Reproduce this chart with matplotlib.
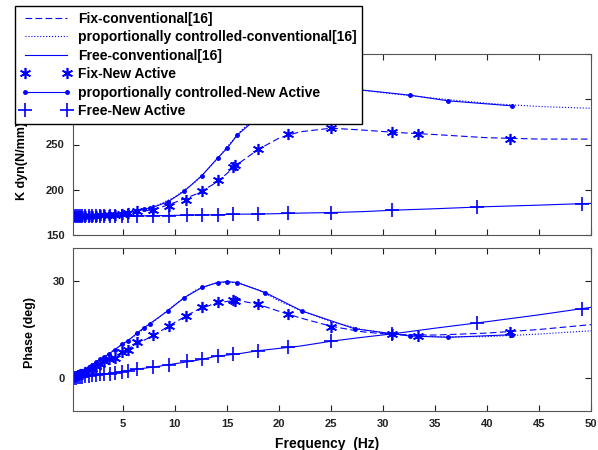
import matplotlib
matplotlib.use('Agg')
import matplotlib.pyplot as plt

plt.rcParams['font.family'] = ['Liberation Sans', 'DejaVu Sans']
plt.rcParams['font.weight'] = 'bold'
plt.rcParams['axes.labelweight'] = 'bold'

# conventional[16] curves (lines only)
conv_f = [0.2, 2, 4, 6, 8, 10, 12, 14, 16, 18, 20, 22, 25, 28, 31, 35, 40, 45, 50]
fix_conv_k = [171, 171.5, 172, 175, 178, 186, 195, 208, 228, 244.5, 257, 264, 268, 266, 263.5, 261, 257.5, 256, 256]
prop_conv_k = [171, 171.5, 172.5, 176.5, 181, 192, 209, 233, 261, 284, 298, 306, 311, 310, 306, 301, 295.5, 292, 290]
free_conv_k = [170.5, 170.5, 170.8, 171, 171.3, 171.7, 172, 172.3, 173, 173.2, 173.6, 174.2, 174.8, 175.8, 177.4, 179, 181.3, 183, 185]
fix_conv_ph = [0.2, 3.0, 6.2, 10.0, 13.3, 17.2, 20.8, 23.2, 24.0, 22.7, 20.6, 18.6, 16.0, 14.3, 13.4, 13.3, 13.9, 15.0, 16.5]
prop_conv_ph = [0.3, 4.0, 8.4, 12.8, 17.5, 22.7, 27.1, 29.4, 29.4, 27.2, 23.8, 20.9, 17.4, 15.0, 13.6, 12.8, 12.8, 13.6, 14.6]
free_conv_ph = [0.1, 0.9, 1.6, 2.7, 3.5, 4.5, 5.5, 6.8, 7.5, 8.5, 9.2, 9.9, 11.4, 12.6, 13.7, 15.4, 17.4, 19.5, 21.8]

# New Active measurements
fix_f = [0.3, 0.5, 0.7, 0.9, 1.1, 1.4, 1.7, 2.0, 2.4, 2.8, 3.2, 3.7, 4.2, 4.9, 5.5, 6.4, 7.9, 9.4,
         11.1, 12.6, 14.1, 15.6, 15.8, 18.0, 20.9, 25.0, 30.9, 33.4, 42.2]
fix_k = [171, 171, 171, 171, 171, 171, 171.5, 171.5, 171.5, 172, 172, 172, 172.5, 173, 174, 176.6, 177.5, 182.5,
         189, 198.5, 211, 225.5, 227.7, 244.5, 261.5, 268, 263.5, 262, 256]
fix_ph = [0.3, 0.6, 0.9, 1.2, 1.5, 2.0, 2.5, 3.0, 3.8, 4.5, 5.2, 5.9, 6.4, 8.0, 8.8, 11.1, 13.3, 16.2,
          19.0, 21.9, 23.3, 24.2, 23.7, 22.7, 19.7, 15.7, 13.5, 13.1, 14.3]

prop_f = [0.3, 0.5, 0.7, 0.9, 1.1, 1.4, 1.7, 2.0, 2.4, 2.8, 3.2, 3.7, 4.2, 4.9, 5.5, 6.4, 7.0, 7.6, 9.3,
          10.9, 12.6, 14.1, 15.0, 16.0, 18.7, 22.2, 27.3, 32.6, 36.3, 42.4]
prop_k = [171, 171, 171, 171, 171, 171.5, 171.5, 171.5, 172, 172, 172.5, 172.5, 173, 173.5, 175, 177, 178.5, 179.5, 186.5,
          198.5, 215.7, 235, 245.6, 260.6, 287, 303, 311, 304.5, 298.2, 292.7]
prop_ph = [0.5, 0.9, 1.3, 1.7, 2.1, 2.7, 3.3, 4.0, 5.0, 5.9, 6.6, 7.6, 8.8, 10.4, 11.6, 14.0, 15.5, 16.8, 20.7,
           24.8, 27.9, 29.4, 29.7, 29.4, 26.3, 20.7, 15.2, 13.0, 12.6, 13.4]

free_f = [0.3, 0.5, 0.7, 0.9, 1.1, 1.4, 1.7, 2.0, 2.4, 2.8, 3.2, 3.8, 4.2, 4.9, 5.5, 6.4, 7.9, 9.4,
          11.2, 12.6, 14.1, 15.6, 18.0, 20.9, 25.0, 30.9, 39.0, 49.1]
free_k = [170.5, 170.5, 170.5, 170.5, 170.5, 170.5, 170.5, 170.5, 170.5, 170.5, 170.8, 170.8, 170.8, 170.8, 171, 171, 171.5, 171.5,
          172, 172, 172.3, 173, 173.2, 173.8, 174.8, 177.4, 181, 184]
free_ph = [0.1, 0.2, 0.3, 0.4, 0.5, 0.6, 0.8, 0.9, 1.0, 1.2, 1.3, 1.5, 1.7, 1.9, 2.3, 2.9, 3.5, 4.2,
           5.2, 5.9, 6.8, 7.4, 8.5, 9.5, 11.4, 13.6, 17.0, 21.3]

labels = ['Fix-conventional[16]', 'proportionally controlled-conventional[16]', 'Free-conventional[16]',
          'Fix-New Active', 'proportionally controlled-New Active', 'Free-New Active']
xticks = [5, 10, 15, 20, 25, 30, 35, 40, 45, 50]

c = '#0000ff'
lw = 0.8
star = (6, 2, 0)   # asterisk like matlab '*'

fig = plt.figure(figsize=(5.98, 4.5), dpi=100)
ax1 = fig.add_axes([73/598, 1-235/450, 518/598, 181/450])
ax2 = fig.add_axes([73/598, 1-411/450, 518/598, 163/450])

def draw(ax, fk, pk, frk, fx, px, fr):
    h = []
    h += ax.plot(conv_f, fk, '--', color=c, lw=lw, dashes=(6, 3))
    h += ax.plot(conv_f, pk, ':', color=c, lw=lw)
    h += ax.plot(conv_f, frk, '-', color=c, lw=lw)
    h += ax.plot(fix_f, fx, marker=star, color=c, ms=8, mew=1.2, ls='none')
    h += ax.plot(prop_f, px, '.-', color=c, ms=5, lw=lw)
    h += ax.plot(free_f, fr, '+', color=c, ms=10, mew=1.2, ls='none')
    return h

h = draw(ax1, fix_conv_k, prop_conv_k, free_conv_k, fix_k, prop_k, free_k)
draw(ax2, fix_conv_ph, prop_conv_ph, free_conv_ph, fix_ph, prop_ph, free_ph)

for ax in (ax1, ax2):
    ax.set_xlim(0.2, 50)
    ax.set_xticks(xticks)
    ax.tick_params(direction='in', top=True, right=True, length=4, labelsize=8, pad=6, colors='#222222')
    for t in ax.get_xticklabels() + ax.get_yticklabels():
        t.set_fontweight('bold')
    for s in ax.spines.values():
        s.set_color('#555555')
        s.set_linewidth(0.8)

ax1.set_ylim(150, 350)
ax1.set_yticks([150, 200, 250, 300, 350])
ax1.tick_params(labelbottom=False)
ax1.set_ylabel('K dyn(N/mm)', fontsize=9)
ax1.yaxis.set_label_coords(-0.087, 0.41)

ax2.set_ylim(-10, 40)
ax2.set_yticks([0, 30])
ax2.set_ylabel('Phase (deg)', fontsize=9)
ax2.yaxis.set_label_coords(-0.072, 0.48)
ax2.set_xlabel('Frequency  (Hz)', fontsize=10)
ax2.xaxis.set_label_coords(0.49, -0.16)

leg = ax1.legend(h, labels, loc='upper left', bbox_to_anchor=(15/598, 1-6/450),
                 bbox_transform=fig.transFigure, fontsize=10, numpoints=2,
                 handlelength=3.6, handletextpad=0.5, labelspacing=0.32,
                 borderpad=0.42, borderaxespad=0, fancybox=False, framealpha=1)
leg.get_frame().set_edgecolor('black')
leg.get_frame().set_linewidth(1.0)
leg.set_zorder(10)

fig.savefig('out.png', dpi=100)
